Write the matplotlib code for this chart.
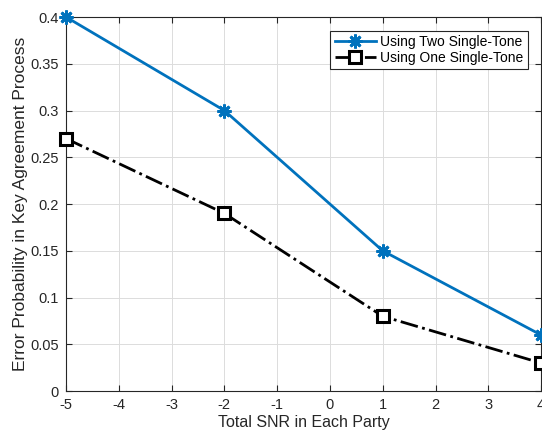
import matplotlib
matplotlib.use("Agg")
import matplotlib.pyplot as plt

plt.rcParams['font.family'] = ['Liberation Sans', 'DejaVu Sans']

snr = [-5, -2, 1, 4]
two_tone = [0.4, 0.3, 0.15, 0.06]
one_tone = [0.27, 0.19, 0.08, 0.03]
xticks = [-5, -4, -3, -2, -1, 0, 1, 2, 3, 4]
yticks = [0, 0.05, 0.1, 0.15, 0.2, 0.25, 0.3, 0.35, 0.4]

fig = plt.figure(figsize=(5.42, 4.36), dpi=100)
ax = fig.add_axes([0.1218, 0.103, 0.8765, 0.858])

ax.plot(snr, two_tone, color='#0072BD', linewidth=2, marker=(8, 2, 0),
        markersize=10, markeredgewidth=2, label='Using Two Single-Tone', clip_on=False, zorder=3)
ax.plot(snr, one_tone, color='black', linewidth=2, linestyle='-.', marker='s',
        markersize=8, markerfacecolor='white', markeredgewidth=2.2,
        label='Using One Single-Tone', clip_on=False, zorder=3)

ax.set_xlim(-5, 4)
ax.set_ylim(0, 0.4)
ax.set_xticks(xticks)
ax.set_yticks(yticks)
ax.set_xticklabels([str(v) for v in xticks])
ax.set_yticklabels(['0', '0.05', '0.1', '0.15', '0.2', '0.25', '0.3', '0.35', '0.4'])
ax.grid(True, color='#dcdcdc', linewidth=0.7)
ax.set_axisbelow(True)
ax.tick_params(direction='in', labelsize=10.5, colors='#262626', length=4, top=True, right=True, pad=5)
for s in ax.spines.values():
    s.set_color('#262626')
    s.set_linewidth(0.8)

ax.set_xlabel('Total SNR in Each Party', fontsize=11.5, color='#262626', labelpad=2)
ax.set_ylabel('Error Probability in Key Agreement Process', fontsize=12.5, color='#262626', labelpad=2)

leg = ax.legend(loc='upper right', bbox_to_anchor=(0.978, 0.97), fontsize=10,
                fancybox=False, edgecolor='#262626', framealpha=1,
                handlelength=3.0, borderpad=0.3, labelspacing=0.15, handletextpad=0.3,
                borderaxespad=0.2)
leg.get_frame().set_linewidth(0.8)

fig.savefig('out.png', dpi=100)
